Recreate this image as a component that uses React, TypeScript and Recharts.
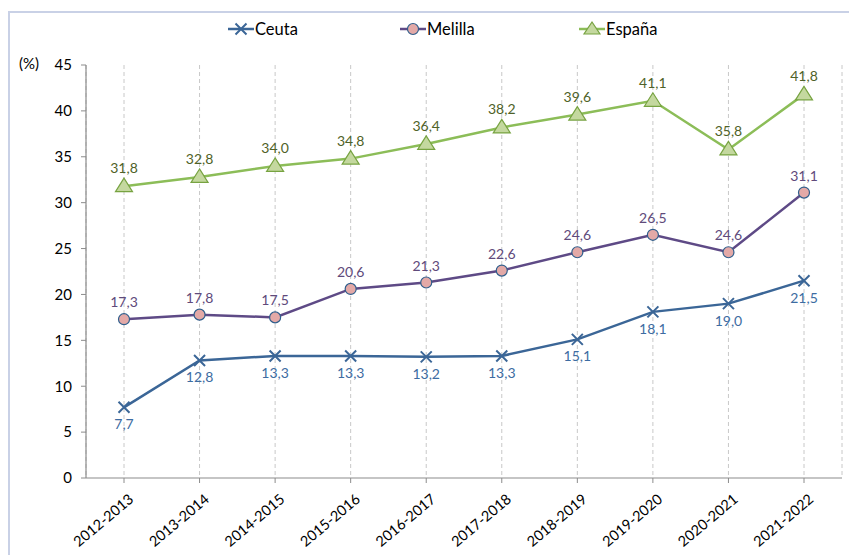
import React from "react";
import {
  CartesianGrid,
  LabelList,
  Line,
  LineChart,
  XAxis,
  YAxis,
} from "recharts";

const cursos = [
  "2012-2013",
  "2013-2014",
  "2014-2015",
  "2015-2016",
  "2016-2017",
  "2017-2018",
  "2018-2019",
  "2019-2020",
  "2020-2021",
  "2021-2022",
];
const ceuta = [7.7, 12.8, 13.3, 13.3, 13.2, 13.3, 15.1, 18.1, 19.0, 21.5];
const melilla = [17.3, 17.8, 17.5, 20.6, 21.3, 22.6, 24.6, 26.5, 24.6, 31.1];
const espana = [31.8, 32.8, 34.0, 34.8, 36.4, 38.2, 39.6, 41.1, 35.8, 41.8];
const yTicks = [0, 5, 10, 15, 20, 25, 30, 35, 40, 45];

const data = cursos.map((curso, i) => ({
  curso,
  ceuta: ceuta[i],
  melilla: melilla[i],
  espana: espana[i],
}));

const FONT = "Lato, 'Open Sans', sans-serif";
const C_CEUTA = "#3B6697";
const C_MEL = "#5E4A86";
const C_ESP = "#8CBD58";

const fmt = (v: any) => Number(v).toFixed(1).replace(".", ",");

const CrossDot = (p: any) => {
  const { cx, cy, index } = p;
  const s = 5.5;
  return (
    <path
      key={`c-${index}`}
      d={`M${cx - s},${cy - s}L${cx + s},${cy + s}M${cx - s},${cy + s}L${cx + s},${cy - s}`}
      stroke={C_CEUTA}
      strokeWidth={2}
      fill="none"
    />
  );
};

const CircleDot = (p: any) => {
  const { cx, cy, index } = p;
  return (
    <circle key={`m-${index}`} cx={cx} cy={cy} r={5.5} fill="#E3A9A7" stroke="#2F5E8C" strokeWidth={1.2} />
  );
};

const TriDot = (p: any) => {
  const { cx, cy, index } = p;
  return (
    <polygon
      key={`e-${index}`}
      points={`${cx},${cy - 8} ${cx - 8.5},${cy + 5.5} ${cx + 8.5},${cy + 5.5}`}
      fill="#C4D89F"
      stroke="#77A341"
      strokeWidth={1.2}
    />
  );
};

const XTick = (p: any) => {
  const { x, y, payload } = p;
  return (
    <g transform={`translate(${x + 4},${y + 8})`}>
      <text
        x={0}
        y={0}
        dy="0.7em"
        textAnchor="end"
        transform="rotate(-40)"
        fontFamily={FONT}
        fontSize={14.5}
        fill="#000"
      >
        {payload.value}
      </text>
    </g>
  );
};

function LegendIcon({ kind, color }: { kind: string; color: string }) {
  return (
    <svg width={26} height={20} style={{ display: "block" }}>
      <line x1={0} y1={10} x2={26} y2={10} stroke={color} strokeWidth={2.5} />
      {kind === "x" && (
        <path d="M7.5,4.5L18.5,15.5M7.5,15.5L18.5,4.5" stroke={color} strokeWidth={2} />
      )}
      {kind === "o" && <circle cx={13} cy={10} r={5.5} fill="#E3A9A7" stroke="#2F5E8C" strokeWidth={1.2} />}
      {kind === "t" && (
        <polygon points="13,3 5,15 21,15" fill="#C4D89F" stroke="#77A341" strokeWidth={1.2} />
      )}
    </svg>
  );
}

const legendItems = [
  { name: "Ceuta", kind: "x", color: C_CEUTA, left: 228 },
  { name: "Melilla", kind: "o", color: C_MEL, left: 400 },
  { name: "España", kind: "t", color: C_ESP, left: 579 },
];

export default function App() {
  return (
    <div
      style={{
        position: "absolute",
        left: 0,
        top: 0,
        width: 849,
        height: 555,
        background: "#fff",
        overflow: "hidden",
        fontFamily: FONT,
      }}
    >
      <div
        style={{
          position: "absolute",
          left: 8,
          top: 11,
          width: 900,
          height: 600,
          borderLeft: "2px solid #C9D1E6",
          borderTop: "2px solid #C9D1E6",
        }}
      />
      {legendItems.map((it) => (
        <div
          key={it.name}
          style={{
            position: "absolute",
            left: it.left,
            top: 19,
            display: "flex",
            alignItems: "center",
            fontSize: 16.5,
            color: "#000",
          }}
        >
          <LegendIcon kind={it.kind} color={it.color} />
          <span style={{ marginLeft: 1 }}>{it.name}</span>
        </div>
      ))}
      <div style={{ position: "absolute", left: 19, top: 54, fontSize: 15 }}>(%)</div>
      <div style={{ position: "absolute", left: 0, top: 0 }}>
        <LineChart width={849} height={555} data={data} margin={{ top: 65, right: 7, left: 36, bottom: 0 }}>
          <CartesianGrid vertical horizontal={false} stroke="#C8C8C8" strokeDasharray="4 3" />
          <XAxis
            dataKey="curso"
            padding={{ left: 38, right: 38 }}
            height={77}
            tick={<XTick />}
            tickLine={{ stroke: "#8C8C8C" }}
            tickSize={5}
            axisLine={{ stroke: "#8C8C8C", strokeWidth: 1.2 }}
            interval={0}
          />
          <YAxis
            width={50}
            domain={[0, 45]}
            ticks={yTicks}
            tick={{ fill: "#000", fontSize: 15, fontFamily: FONT }}
            tickLine={{ stroke: "#8C8C8C" }}
            tickSize={5}
            tickMargin={9}
            axisLine={{ stroke: "#8C8C8C", strokeWidth: 1.2 }}
            interval={0}
          />
          <Line
            dataKey="ceuta"
            stroke={C_CEUTA}
            strokeWidth={2.5}
            dot={CrossDot}
            activeDot={false}
            isAnimationActive={false}
          >
            <LabelList
              dataKey="ceuta"
              position="bottom"
              offset={12}
              formatter={fmt}
              fill="#3D6CA2"
              fontSize={14}
              fontFamily={FONT}
            />
          </Line>
          <Line
            dataKey="melilla"
            stroke={C_MEL}
            strokeWidth={2.5}
            dot={CircleDot}
            activeDot={false}
            isAnimationActive={false}
          >
            <LabelList
              dataKey="melilla"
              position="top"
              offset={12}
              formatter={fmt}
              fill="#604A7B"
              fontSize={14}
              fontFamily={FONT}
            />
          </Line>
          <Line
            dataKey="espana"
            stroke={C_ESP}
            strokeWidth={2.5}
            dot={TriDot}
            activeDot={false}
            isAnimationActive={false}
          >
            <LabelList
              dataKey="espana"
              position="top"
              offset={13}
              formatter={fmt}
              fill="#4F6228"
              fontSize={14}
              fontFamily={FONT}
            />
          </Line>
        </LineChart>
      </div>
    </div>
  );
}
